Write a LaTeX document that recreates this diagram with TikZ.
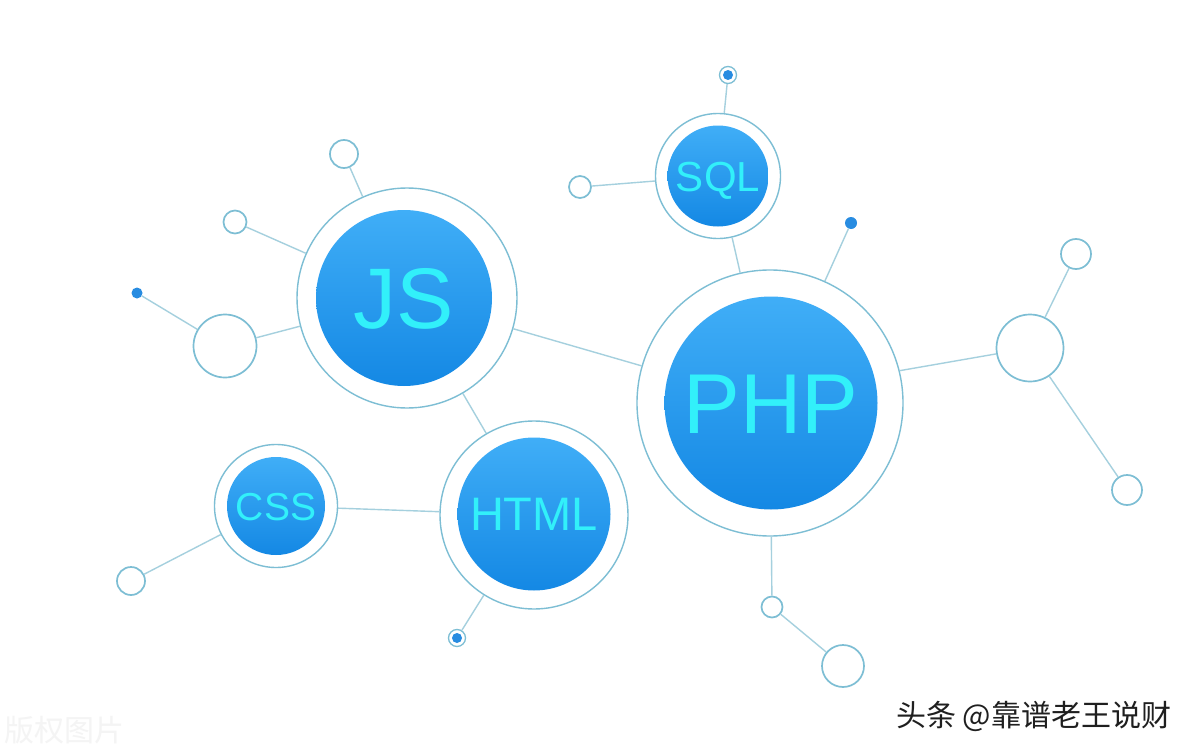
\documentclass[tikz,border=0pt]{standalone}
\usepackage{fontspec}
\setmainfont{Liberation Sans}
\newfontfamily\cjk{Noto Sans CJK SC}
\definecolor{ringc}{RGB}{125,190,212}
\definecolor{linec}{RGB}{165,208,222}
\definecolor{topb}{RGB}{64,174,247}
\definecolor{botb}{RGB}{20,136,228}
\definecolor{txtc}{RGB}{50,240,250}
\definecolor{dotc}{RGB}{40,140,225}
\definecolor{wmark}{RGB}{244,244,244}
\begin{document}
\begin{tikzpicture}[x=1pt,y=-1pt,
  ring/.style={circle,draw=ringc,line width=1.4pt,minimum size=#1,inner sep=0pt},
  core/.style={circle,inner sep=0pt,minimum size=#1,top color=topb,bottom color=botb,draw=none,text=txtc,text depth=0pt},
  bub/.style={circle,draw=ringc,line width=1.7pt,minimum size=#1,inner sep=0pt},
  dot/.style={circle,fill=dotc,draw=none,minimum size=#1,inner sep=0pt},
  link/.style={draw=linec,line width=1.4pt}]
\useasboundingbox[fill=white] (0,0) rectangle (1200,752);

% main circles
\node[ring=220pt] (jsR) at (407,298) {};
\node[core=176pt,text height=61.6pt,font=\fontsize{86}{90}\selectfont] (js) at (404,298) {JS};
\node[ring=125pt] (sqlR) at (718,176) {};
\node[core=101pt,text height=30pt,font=\fontsize{42}{46}\selectfont] (sql) at (718,176) {SQL};
\node[ring=266pt] (phpR) at (770,403) {};
\node[core=213pt,text height=61pt,font=\fontsize{85}{90}\selectfont] (php) at (771,403) {PHP};
\node[ring=188pt] (htmlR) at (534,515) {};
\node[core=153pt,text height=33.7pt,font=\fontsize{47}{50}\selectfont] (html) at (534,514) {HTML};
\node[ring=123pt] (cssR) at (276,506) {};
\node[core=98pt,text height=28pt,font=\fontsize{39}{42}\selectfont] (css) at (276,506) {CSS};

% small bubbles
\node[bub=28pt] (b1) at (344,154) {};
\node[bub=23pt] (b2) at (235,222) {};
\node[bub=63pt] (b3) at (225,346) {};
\node[dot=11pt] (d1) at (137,293) {};
\node[bub=22pt] (b4) at (580,187) {};
\node[bub=17pt,line width=1.3pt] (d2R) at (728,75) {};
\node[dot=10pt] (d2) at (728,75) {};
\node[dot=12pt] (d3) at (851,223) {};
\node[bub=67pt] (b5) at (1030,348) {};
\node[bub=30pt] (b6) at (1076,254) {};
\node[bub=30pt] (b7) at (1127,490) {};
\node[bub=21pt] (b8) at (772,607) {};
\node[bub=42pt] (b9) at (843,666) {};
\node[bub=28pt] (b10) at (131,581) {};
\node[bub=17pt,line width=1.3pt] (d4R) at (457,638) {};
\node[dot=10pt] (d4) at (457,638) {};

% connectors
\path[link] (b1) -- (jsR);
\path[link] (b2) -- (jsR);
\path[link] (d1) -- (b3);
\path[link] (b3) -- (jsR);
\path[link] (jsR) -- (phpR);
\path[link] (jsR) -- (htmlR);
\path[link] (cssR) -- (htmlR);
\path[link] (cssR) -- (b10);
\path[link] (htmlR) -- (d4R);
\path[link] (b4) -- (sqlR);
\path[link] (d2R) -- (sqlR);
\path[link] (sqlR) -- (phpR);
\path[link] (d3) -- (phpR);
\path[link] (phpR.14) -- (b5);
\path[link] (b5) -- (b6);
\path[link] (b5) -- (b7);
\path[link] (phpR) -- (b8);
\path[link] (b8) -- (b9);

% texts
\node[anchor=west,inner sep=0pt,text=wmark,font=\cjk\fontsize{30}{32}\selectfont] (wm) at (4,730) {版权图片};
\node[anchor=west,inner sep=0pt,text=black!88,font=\cjk\fontsize{30}{32}\selectfont] (src) at (896,716) {头条 @靠谱老王说财};
\end{tikzpicture}
\end{document}
